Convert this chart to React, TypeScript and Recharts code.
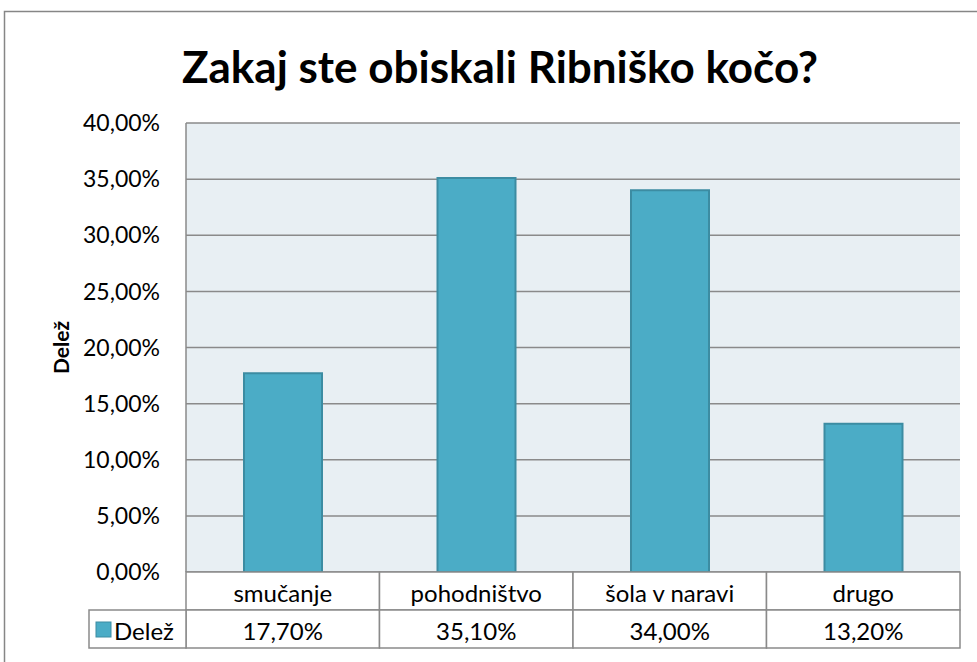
import { Bar, BarChart, CartesianGrid, Customized, XAxis, YAxis } from "recharts";

const categories = ["smučanje", "pohodništvo", "šola v naravi", "drugo"];
const shares = [17.7, 35.1, 34.0, 13.2];
const yTicks = [0, 5, 10, 15, 20, 25, 30, 35, 40];
const seriesName = "Delež";
const title = "Zakaj ste obiskali Ribniško kočo?";

const WIDTH = 977;
const HEIGHT = 662;
const PLOT_LEFT = 186;
const PLOT_RIGHT = 960;
const PLOT_TOP = 123;
const TABLE_H = 90;
const ROW_H = 38;
const LEGEND_LEFT = 89;

const BAR_FILL = "#4BACC6";
const BAR_STROKE = "#3C8CA2";
const LINE = "#8a8a8a";
const FONT = "Lato, 'Noto Sans', sans-serif";
const TABLE_FONT = 24;

const data = categories.map((name, i) => ({ name, value: shares[i] }));

const formatPct = (v: number) => v.toFixed(2).replace(".", ",") + "%";

type TickProps = {
  x?: number;
  y?: number;
  index?: number;
  payload?: { value: string; index?: number };
};

// x axis tick doubles as the data table: category row + value row
function TableTick({ x = 0, y = 0, index, payload }: TickProps) {
  const i = payload?.index ?? index ?? 0;
  const band = (PLOT_RIGHT - PLOT_LEFT) / categories.length;
  const left = x - band / 2;

  return (
    <g>
      <rect x={left} y={y} width={band} height={ROW_H} fill="#fff" stroke={LINE} strokeWidth={1.5} />
      <rect x={left} y={y + ROW_H} width={band} height={ROW_H} fill="#fff" stroke={LINE} strokeWidth={1.5} />
      <text x={x} y={y + ROW_H / 2 + 1} textAnchor="middle" dominantBaseline="central" fontSize={TABLE_FONT} fill="#000" fontFamily={FONT}>
        {payload?.value}
      </text>
      <text x={x} y={y + ROW_H * 1.5 + 1} textAnchor="middle" dominantBaseline="central" fontSize={TABLE_FONT} fill="#000" fontFamily={FONT}>
        {formatPct(shares[i])}
      </text>
      {i === 0 ? (
        <g>
          <rect x={LEGEND_LEFT} y={y + ROW_H} width={left - LEGEND_LEFT} height={ROW_H} fill="#fff" stroke={LINE} strokeWidth={1.5} />
          <rect x={LEGEND_LEFT + 7} y={y + ROW_H * 1.5 - 7} width={15} height={15} fill={BAR_FILL} stroke={BAR_STROKE} strokeWidth={1} />
          <text x={LEGEND_LEFT + 25} y={y + ROW_H * 1.5 + 1} dominantBaseline="central" fontSize={TABLE_FONT} fill="#000" fontFamily={FONT}>
            {seriesName}
          </text>
        </g>
      ) : null}
    </g>
  );
}

function Decorations() {
  const midY = (PLOT_TOP + HEIGHT - TABLE_H) / 2;
  return (
    <g>
      <rect x={4.5} y={11.5} width={1100} height={800} fill="none" stroke="#868686" strokeWidth={1.5} />
      <text x={500} y={66} textAnchor="middle" dominantBaseline="central" fontSize={44} fontWeight="bold" fill="#000" fontFamily={FONT}>
        {title}
      </text>
      <text
        x={60}
        y={midY}
        transform={`rotate(-90 60 ${midY})`}
        textAnchor="middle"
        dominantBaseline="central"
        fontSize={21}
        fontWeight="bold"
        fill="#000"
        fontFamily={FONT}
      >
        {seriesName}
      </text>
    </g>
  );
}

export default function App() {
  return (
    <div style={{ position: "absolute", left: 0, top: 0, width: WIDTH, height: HEIGHT, background: "#fff", fontFamily: FONT }}>
      <BarChart
        width={WIDTH}
        height={HEIGHT}
        data={data}
        margin={{ top: PLOT_TOP, right: WIDTH - PLOT_RIGHT, bottom: 0, left: 0 }}
      >
        <Customized component={Decorations} />
        <CartesianGrid vertical={false} stroke={LINE} strokeWidth={1.5} fill="#E8EFF3" fillOpacity={1} />
        <XAxis
          dataKey="name"
          height={TABLE_H}
          axisLine={false}
          tickLine={false}
          tickSize={0}
          tickMargin={0}
          interval={0}
          tick={<TableTick />}
        />
        <YAxis
          domain={[0, 40]}
          ticks={yTicks}
          width={PLOT_LEFT}
          tickFormatter={formatPct}
          axisLine={{ stroke: LINE, strokeWidth: 1.5 }}
          tickLine={false}
          tickSize={0}
          tickMargin={26}
          tick={{ fill: "#000", fontSize: 23, fontFamily: FONT }}
        />
        <Bar dataKey="value" fill={BAR_FILL} stroke={BAR_STROKE} strokeWidth={2} barSize={78} isAnimationActive={false} />
      </BarChart>
    </div>
  );
}
